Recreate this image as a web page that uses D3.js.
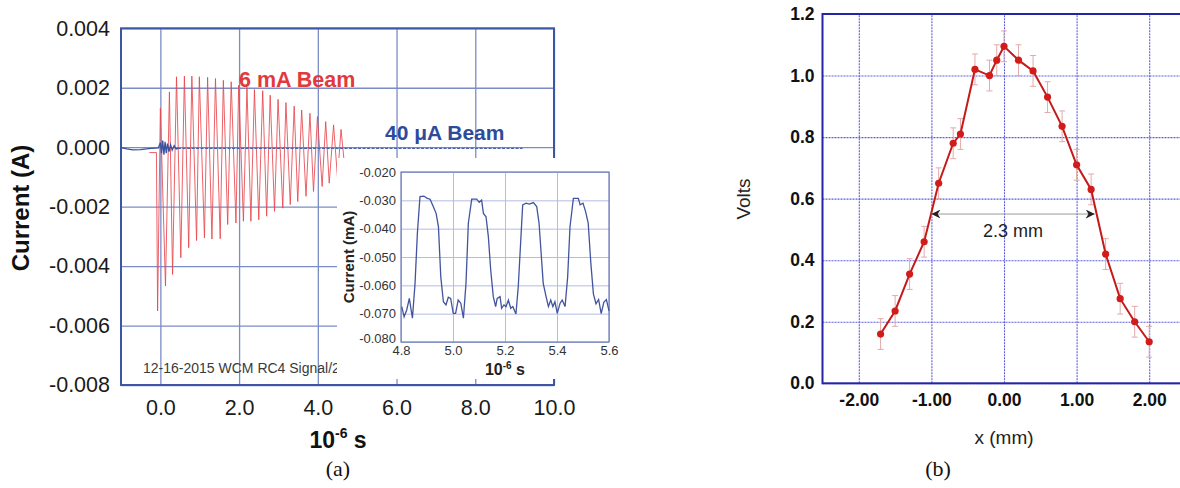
<!DOCTYPE html>
<html><head><meta charset="utf-8">
<script src="https://cdn.jsdelivr.net/npm/d3@7"></script>
<style>
body{margin:0;background:#fff}
svg{display:block}
text{font-family:"Liberation Sans",Arial,Helvetica,sans-serif}
</style>
</head><body>
<svg id="chart" width="1180" height="488"></svg>
<script>
// ---------- Panel (a): main chart data ----------
const mainXTicks = [0, 2, 4, 6, 8, 10];
const mainYTicks = [0.004, 0.002, 0.000, -0.002, -0.004, -0.006, -0.008];

// 6 mA beam: peaks and troughs (time in 1e-6 s, current in A)
const beam6Time = [-0.28, -0.10, -0.07, 0.00, 0.13, 0.23, 0.31, 0.41, 0.52, 0.61, 0.72, 0.80, 0.92, 0.99,
  1.12, 1.20, 1.31, 1.40, 1.52, 1.60, 1.71, 1.80, 1.92, 1.99, 2.11, 2.20, 2.30, 2.39, 2.50, 2.60,
  2.70, 2.79, 2.90, 2.99, 3.11, 3.19, 3.30, 3.40, 3.49, 3.59, 3.70, 3.80, 3.89, 3.99, 4.11, 4.20,
  4.29, 4.40, 4.50, 4.59, 4.70];
const beam6Current = [-0.00018, -0.00018, -0.00551, 0.00131, -0.00467, 0.00186, -0.00428, 0.00237,
  -0.00372, 0.00239, -0.00338, 0.00239, -0.00314, 0.00237, -0.00305, 0.00235, -0.00309, 0.00231,
  -0.00308, 0.00225, -0.00260, 0.00220, -0.00255, 0.00209, -0.00249, 0.00201, -0.00249, 0.00194,
  -0.00244, 0.00190, -0.00232, 0.00175, -0.00216, 0.00161, -0.00205, 0.00150, -0.00193, 0.00138,
  -0.00183, 0.00125, -0.00165, 0.00114, -0.00149, 0.00103, -0.00132, 0.00086, -0.00121, 0.00075,
  -0.00103, 0.00060, -0.00090];

// 40 uA beam: start and burst, then flat tail
const beam40Time = [-1.0, -0.85, -0.7, -0.5, -0.3, -0.15, -0.05, 0.0, 0.03, 0.06, 0.09, 0.12, 0.15,
  0.18, 0.22, 0.26, 0.30, 0.35, 0.40, 0.45];
const beam40Current = [-0.00001, -0.00006, -0.00009, -0.00008, -0.00005, -0.00003, -0.00002, 0.00015,
  -0.00020, 0.00022, -0.00025, 0.00018, -0.00020, 0.00012, -0.00015, 0.00008, -0.00010, 0.00005,
  -0.00006, -0.00004];
const beam40TailTime = [0.45, 9.2];
const beam40TailCurrent = [-0.00004, -0.00004];

// ---------- Panel (a): inset data (time 1e-6 s, current mA) ----------
const insetXTicks = [4.8, 5.0, 5.2, 5.4, 5.6];
const insetYTicks = [-0.020, -0.030, -0.040, -0.050, -0.060, -0.070, -0.080];
const insetTime = [4.803, 4.812, 4.822, 4.832, 4.844, 4.854, 4.863, 4.873, 4.888, 4.901, 4.912, 4.924,
  4.935, 4.944, 4.953, 4.963, 4.973, 4.982, 4.991, 5.001, 5.010, 5.020, 5.030, 5.040, 5.050, 5.059,
  5.072, 5.091, 5.101, 5.110, 5.117, 5.127, 5.136, 5.145, 5.155, 5.164, 5.170, 5.181, 5.187, 5.196,
  5.204, 5.213, 5.222, 5.230, 5.242, 5.251, 5.260, 5.268, 5.281, 5.294, 5.309, 5.322, 5.331, 5.339,
  5.347, 5.358, 5.367, 5.376, 5.384, 5.392, 5.401, 5.412, 5.420, 5.431, 5.441, 5.450, 5.463, 5.482,
  5.489, 5.500, 5.510, 5.520, 5.530, 5.540, 5.550, 5.560, 5.570, 5.580, 5.590, 5.600];
const insetCurrent = [-0.0675, -0.0711, -0.0687, -0.0646, -0.0716, -0.0593, -0.0416, -0.0287, -0.0285,
  -0.0293, -0.0296, -0.0322, -0.0346, -0.0393, -0.0570, -0.0658, -0.0669, -0.0642, -0.0646, -0.0699,
  -0.0699, -0.0652, -0.0663, -0.0716, -0.0593, -0.0381, -0.0296, -0.0296, -0.0307, -0.0299, -0.0346,
  -0.0358, -0.0428, -0.0546, -0.0640, -0.0675, -0.0646, -0.0640, -0.0681, -0.0669, -0.0675, -0.0652,
  -0.0681, -0.0675, -0.0701, -0.0605, -0.0452, -0.0316, -0.0310, -0.0313, -0.0308, -0.0322, -0.0381,
  -0.0487, -0.0593, -0.0640, -0.0675, -0.0652, -0.0675, -0.0658, -0.0699, -0.0663, -0.0652, -0.0675,
  -0.0570, -0.0393, -0.0293, -0.0293, -0.0316, -0.0310, -0.0340, -0.0380, -0.0520, -0.0630, -0.0665,
  -0.0650, -0.0700, -0.0660, -0.0650, -0.0690];

// ---------- Panel (b) data ----------
const profXTicks = [-2, -1, 0, 1, 2];
const profYTicks = [0.0, 0.2, 0.4, 0.6, 0.8, 1.0, 1.2];
const profX = [-1.7, -1.5, -1.3, -1.1, -0.9, -0.7, -0.6, -0.4, -0.2, -0.1, 0.0, 0.2, 0.4, 0.6, 0.8,
  1.0, 1.2, 1.4, 1.6, 1.8, 2.0];
const profV = [0.16, 0.235, 0.355, 0.46, 0.65, 0.78, 0.81, 1.02, 1.00, 1.05, 1.095, 1.05, 1.015, 0.93,
  0.835, 0.71, 0.63, 0.42, 0.275, 0.20, 0.135];
const profErr = [0.05, 0.05, 0.05, 0.05, 0.05, 0.05, 0.05, 0.05, 0.05, 0.05, 0.05, 0.05, 0.05, 0.05,
  0.05, 0.05, 0.05, 0.05, 0.05, 0.05, 0.05];
const fwhmX = [-1.0, 1.25];
const fwhmV = [0.55, 0.55];
const fwhmLabel = "2.3 mm";

// ---------- drawing ----------
const svg = d3.select("#chart");
svg.append("rect").attr("width", 1180).attr("height", 488).attr("fill", "#ffffff");

// ===== Panel (a) =====
const aL = 121, aR = 554, aT = 28.3, aB = 385;
const xA = d3.scaleLinear().domain([-1, 10]).range([aL, aR]);
const yA = d3.scaleLinear().domain([-0.008, 0.004]).range([aB, aT]);
const gA = svg.append("g");

const gridA = "#7b8cc8";
const gxA = gA.append("g").attr("transform", `translate(0,${aB})`)
  .call(d3.axisBottom(xA).tickValues(mainXTicks).tickSize(-(aB - aT)).tickPadding(15)
    .tickFormat(d => d.toFixed(1)));
const gyA = gA.append("g").attr("transform", `translate(${aL},0)`)
  .call(d3.axisLeft(yA).tickValues(mainYTicks).tickSize(-(aR - aL)).tickPadding(11)
    .tickFormat(d => d.toFixed(3)));
[gxA, gyA].forEach(g => {
  g.select(".domain").remove();
  g.selectAll(".tick line").attr("stroke", gridA).attr("stroke-width", 1.3);
  g.selectAll(".tick text").attr("fill", "#1a1a1a").style("font-size", "21.5px")
    .style("font-family", "'Liberation Sans',Arial,sans-serif");
});
gA.append("rect").attr("x", aL).attr("y", aT).attr("width", aR - aL).attr("height", aB - aT)
  .attr("fill", "none").attr("stroke", "#3d56a3").attr("stroke-width", 2);

svg.append("defs").append("clipPath").attr("id", "clipA")
  .append("rect").attr("x", aL).attr("y", aT).attr("width", aR - aL).attr("height", aB - aT);

const lineA = d3.line().x(d => xA(d[0])).y(d => yA(d[1]));
const plotA = gA.append("g").attr("clip-path", "url(#clipA)");
plotA.append("path").datum(d3.zip(beam6Time, beam6Current)).attr("d", lineA)
  .attr("fill", "none").attr("stroke", "#e8464e").attr("stroke-width", 1).attr("stroke-opacity", 0.85);
plotA.append("path").datum(d3.zip(beam40TailTime, beam40TailCurrent)).attr("d", lineA)
  .attr("fill", "none").attr("stroke", "#4a60ab").attr("stroke-width", 1.4).attr("stroke-dasharray", "3 1.5");
plotA.append("path").datum(d3.zip(beam40Time, beam40Current)).attr("d", lineA)
  .attr("fill", "none").attr("stroke", "#3a52a0").attr("stroke-width", 1.3);

gA.append("text").attr("x", 239).attr("y", 87).attr("fill", "#e23a3c")
  .style("font-size", "21.5px").style("font-weight", "bold").text("6 mA Beam");
gA.append("text").attr("x", 385).attr("y", 140).attr("fill", "#2e4b9b")
  .style("font-size", "21px").style("font-weight", "bold").text("40 μA Beam");

gA.append("text").attr("x", 143).attr("y", 373).attr("fill", "#3a3a3a")
  .style("font-size", "14px").text("12-16-2015 WCM RC4 Signal/2");

// axis titles
gA.append("text").attr("transform", "translate(29,208) rotate(-90)").attr("text-anchor", "middle")
  .attr("fill", "#111").style("font-size", "24px").style("font-weight", "bold").text("Current (A)");
const xtA = gA.append("text").attr("x", 338).attr("y", 448).attr("text-anchor", "middle")
  .attr("fill", "#111").style("font-weight", "bold").style("font-size", "23px");
xtA.append("tspan").text("10");
xtA.append("tspan").attr("dy", -10).style("font-size", "14px").text("-6");
xtA.append("tspan").attr("dy", 10).text(" s");

svg.append("text").attr("x", 338).attr("y", 476).attr("text-anchor", "middle")
  .style("font-family", "'Liberation Serif','Times New Roman',serif").style("font-size", "22px")
  .attr("fill", "#111").text("(a)");

// ===== Inset =====
const gI = svg.append("g");
gI.append("rect").attr("x", 337).attr("y", 158).attr("width", 283).attr("height", 221).attr("fill", "#ffffff");
const iL = 401, iR = 609, iT = 172, iB = 342;
const xI = d3.scaleLinear().domain([4.8, 5.6]).range([iL, iR]);
const yI = d3.scaleLinear().domain([-0.080, -0.020]).range([iB, iT]);
const gxI = gI.append("g").attr("transform", `translate(0,${iB})`)
  .call(d3.axisBottom(xI).tickValues(insetXTicks).tickSize(-(iB - iT)).tickPadding(4)
    .tickFormat(d => d.toFixed(1)));
const gyI = gI.append("g").attr("transform", `translate(${iL},0)`)
  .call(d3.axisLeft(yI).tickValues(insetYTicks).tickSize(-(iR - iL)).tickPadding(5)
    .tickFormat(d => d.toFixed(3)));
[gxI, gyI].forEach(g => {
  g.select(".domain").remove();
  g.selectAll(".tick line").attr("stroke", "#b4bcdf").attr("stroke-width", 1);
  g.selectAll(".tick text").attr("fill", "#333").style("font-size", "13px")
    .style("font-family", "'Liberation Sans',Arial,sans-serif");
});
gyI.selectAll(".tick text").filter(d => d === -0.080).attr("dy", "0.05em");
gI.append("rect").attr("x", iL).attr("y", iT).attr("width", iR - iL).attr("height", iB - iT)
  .attr("fill", "none").attr("stroke", "#6a7ab9").attr("stroke-width", 1.2);
const lineI = d3.line().x(d => xI(d[0])).y(d => yI(d[1]));
gI.append("path").datum(d3.zip(insetTime, insetCurrent)).attr("d", lineI)
  .attr("fill", "none").attr("stroke", "#42549e").attr("stroke-width", 1.3);
gI.append("text").attr("transform", `translate(354,${(iT + iB) / 2}) rotate(-90)`).attr("text-anchor", "middle")
  .attr("fill", "#222").style("font-size", "15px").style("font-weight", "bold").text("Current (mA)");
const xtI = gI.append("text").attr("x", (iL + iR) / 2).attr("y", 375).attr("text-anchor", "middle")
  .attr("fill", "#222").style("font-weight", "bold").style("font-size", "16px");
xtI.append("tspan").text("10");
xtI.append("tspan").attr("dy", -6).style("font-size", "10px").text("-6");
xtI.append("tspan").attr("dy", 6).text(" s");

// ===== Panel (b) =====
const bL = 822.5, bR = 1185.5, bT = 14, bB = 383.3;
const xB = d3.scaleLinear().domain([-2.5, 2.5]).range([bL, bR]);
const yB = d3.scaleLinear().domain([0, 1.2]).range([bB, bT]);
const gB = svg.append("g");
const gxB = gB.append("g").attr("transform", `translate(0,${bB})`)
  .call(d3.axisBottom(xB).tickValues(profXTicks).tickSize(-(bB - bT)).tickPadding(10)
    .tickFormat(d => d.toFixed(2)));
const gyB = gB.append("g").attr("transform", `translate(${bL},0)`)
  .call(d3.axisLeft(yB).tickValues(profYTicks).tickSize(-(bR - bL)).tickPadding(8)
    .tickFormat(d => d.toFixed(1)));
[gxB, gyB].forEach(g => {
  g.select(".domain").remove();
  g.selectAll(".tick line").attr("stroke", "#5c5cdc").attr("stroke-width", 1.1).attr("stroke-dasharray", "2 1");
  g.selectAll(".tick text").attr("fill", "#111").style("font-size", "17.5px").style("font-weight", "bold")
    .style("font-family", "'Liberation Sans',Arial,sans-serif");
});
gB.append("rect").attr("x", bL).attr("y", bT).attr("width", bR - bL).attr("height", bB - bT)
  .attr("fill", "none").attr("stroke", "#2424a4").attr("stroke-width", 2);

const profData = d3.zip(profX, profV, profErr);
// error bars
const eb = gB.append("g").attr("stroke", "#e3aaaa").attr("stroke-width", 1);
profData.forEach(d => {
  eb.append("line").attr("x1", xB(d[0])).attr("x2", xB(d[0])).attr("y1", yB(d[1] - d[2])).attr("y2", yB(d[1] + d[2]));
  eb.append("line").attr("x1", xB(d[0]) - 3).attr("x2", xB(d[0]) + 3).attr("y1", yB(d[1] - d[2])).attr("y2", yB(d[1] - d[2]));
  eb.append("line").attr("x1", xB(d[0]) - 3).attr("x2", xB(d[0]) + 3).attr("y1", yB(d[1] + d[2])).attr("y2", yB(d[1] + d[2]));
});
gB.append("path").datum(profData).attr("d", d3.line().x(d => xB(d[0])).y(d => yB(d[1])))
  .attr("fill", "none").attr("stroke", "#c41a1a").attr("stroke-width", 2);
gB.selectAll("circle.pt").data(profData).join("circle").attr("class", "pt")
  .attr("cx", d => xB(d[0])).attr("cy", d => yB(d[1])).attr("r", 3.6).attr("fill", "#d21c1c");

// FWHM arrow
const defs = svg.select("defs");
["arrEnd", "arrStart"].forEach((id, i) => {
  defs.append("marker").attr("id", id).attr("viewBox", "0 0 10 10").attr("refX", 10).attr("refY", 5)
    .attr("markerWidth", 9).attr("markerHeight", 9).attr("orient", i === 0 ? "auto" : "auto-start-reverse")
    .attr("markerUnits", "userSpaceOnUse")
    .append("path").attr("d", "M0,0 L10,5 L0,10 L3,5 Z").attr("fill", "#222");
});
gB.append("line").attr("x1", xB(fwhmX[0])).attr("x2", xB(fwhmX[1]))
  .attr("y1", yB(fwhmV[0])).attr("y2", yB(fwhmV[1])).attr("stroke", "#9a9a9a").attr("stroke-width", 1)
  .attr("marker-end", "url(#arrEnd)").attr("marker-start", "url(#arrStart)");
gB.append("text").attr("x", (xB(fwhmX[0]) + xB(fwhmX[1])) / 2).attr("y", yB(fwhmV[0]) + 23)
  .attr("text-anchor", "middle").attr("fill", "#222").style("font-size", "18px").text(fwhmLabel);

gB.append("text").attr("transform", "translate(750,199) rotate(-90)").attr("text-anchor", "middle")
  .attr("fill", "#222").style("font-size", "19px").text("Volts");
gB.append("text").attr("x", 1004).attr("y", 444).attr("text-anchor", "middle")
  .attr("fill", "#222").style("font-size", "19px").text("x (mm)");
svg.append("text").attr("x", 938).attr("y", 476).attr("text-anchor", "middle")
  .style("font-family", "'Liberation Serif','Times New Roman',serif").style("font-size", "22px")
  .attr("fill", "#111").text("(b)");
</script>
</body></html>
